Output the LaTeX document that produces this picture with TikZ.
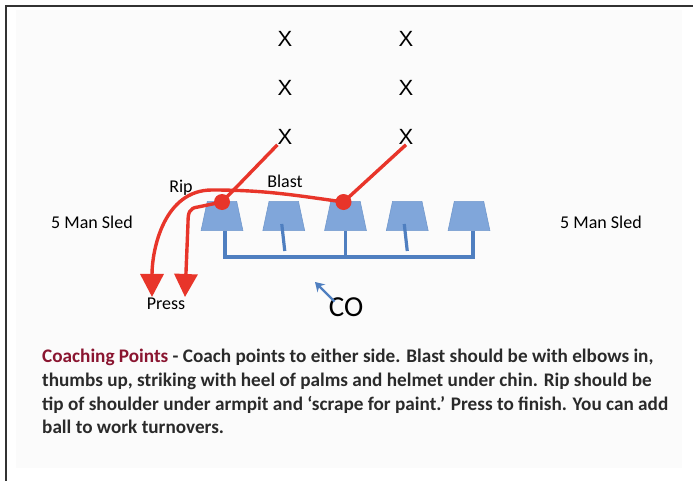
\documentclass[tikz,border=0pt]{standalone}
\usepackage{fontspec}
\setmainfont{Carlito}
\newfontfamily\xfont{Liberation Sans}
\usetikzlibrary{arrows.meta,shapes.geometric,calc}
\definecolor{sledfill}{HTML}{80A6DA}
\definecolor{sledline}{HTML}{4F7FC0}
\definecolor{hitred}{HTML}{E8352A}
\definecolor{notered}{HTML}{8A1530}
\definecolor{notegray}{HTML}{2A2A2A}
\definecolor{panel}{HTML}{FBFBFB}
\tikzset{
  sled/.style={trapezium, trapezium angle=78, minimum width=42pt, minimum height=26pt, inner sep=1pt, draw=sledline!80, fill=sledfill, line width=0.6pt},
  frame/.style={draw=sledline, line width=3.2pt},
  hit/.style={draw=hitred, line width=3.4pt},
  hitarrow/.style={hit, -{Triangle[width=23pt,length=23pt]}},
  hitdot/.style={circle, fill=hitred, minimum size=16pt, inner sep=0pt},
  coarrow/.style={draw=sledline, line width=2.4pt, -{Stealth[length=9pt,width=11pt]}},
  player/.style={font=\xfont\fontsize{22}{24}\selectfont, inner sep=0pt},
  lbl/.style={font=\fontsize{18}{20}\selectfont, inner sep=0pt},
  noteline/.style={anchor=base west, inner sep=0pt, text=notegray, font=\bfseries\fontsize{19.2}{22}\selectfont},
}

\begin{document}
\begin{tikzpicture}[x=1pt,y=1pt]
            \useasboundingbox (0,0) rectangle (693,481);
            \fill[panel] (16,13) rectangle (682,471);
            \draw[line width=2.5pt, draw=black!80] (6,0) -- (6,475) -- (693,475);
            % defenders
            \foreach \col/\x in {1/285,2/406}{
              \foreach \row/\y in {1/442,2/393,3/344}{
                \node[player] (x\col\row) at (\x,\y) {X};
              }
            }
            % sled pads and frame
            \foreach \i in {1,...,5}{
              \node[sled] (sled\i) at ({222+61.75*(\i-1)},265) {};
            }
            \draw[frame] ($(sled1.south)+(3,0)$) -- ++(0,-26) -| ($(sled5.south)+(4,0)$);
            \draw[frame] (sled3.south) -- ++(0,-26);
            \draw[frame] ($(sled2.south)+(-2,7)$) -- ($(sled2.south)+(1,-20)$);
            \draw[frame] ($(sled4.south)+(-3,7)$) -- ($(sled4.south)+(0,-20)$);
            \coordinate (hit1) at ($(sled1.north)+(0,-1)$);
            \coordinate (hit2) at ($(sled3.north)+(-2,-1)$);
            \coordinate (ripend) at (152,184);
            \coordinate (pressend) at (185,184);
            \coordinate (coaim) at (315,199);
            % blast, rip, press
            \draw[hit] (x13.south west) -- (hit1);
            \draw[hit] (x23.south) -- (hit2);
            \draw[hitarrow] (hit2) to[out=172,in=0] (212,291) to[out=180,in=90] (ripend);
            \draw[hitarrow] (hit1) -- (198,274) .. controls (189,273) and (188,268) .. (188,258) -- (pressend);
            \node[hitdot] (dot1) at (hit1) {};
            \node[hitdot] (dot2) at (hit2) {};
            \node[lbl] (rip) at (181,293) {Rip};
            \node[lbl] (blast) at (285,299.5) {Blast};
            \node[lbl] (press) at (166,177) {Press};
            \node[lbl] (sledl) at (92,258.5) {5 Man Sled};
            \node[lbl] (sledr) at (601,258.5) {5 Man Sled};
            % coach
            \node[font=\fontsize{29}{30}\selectfont, inner sep=0pt] (co) at (346,173.7) {CO};
            \draw[coarrow] ($(co.north west)+(6,-4)$) -- (coaim);
            % coaching points
            \node[noteline] (note1) at (42,118.3) {{\color{notered}Coaching Points} - Coach points to either side. Blast should be with elbows in,};
            \node[noteline] (note2) at (42,94.3) {thumbs up, striking with heel of palms and helmet under chin. Rip should be};
            \node[noteline] (note3) at (42,70.3) {tip of shoulder under armpit and ‘scrape for paint.’ Press to finish. You can add};
            \node[noteline] (note4) at (42,47) {ball to work turnovers.};
        \end{tikzpicture}
\end{document}
